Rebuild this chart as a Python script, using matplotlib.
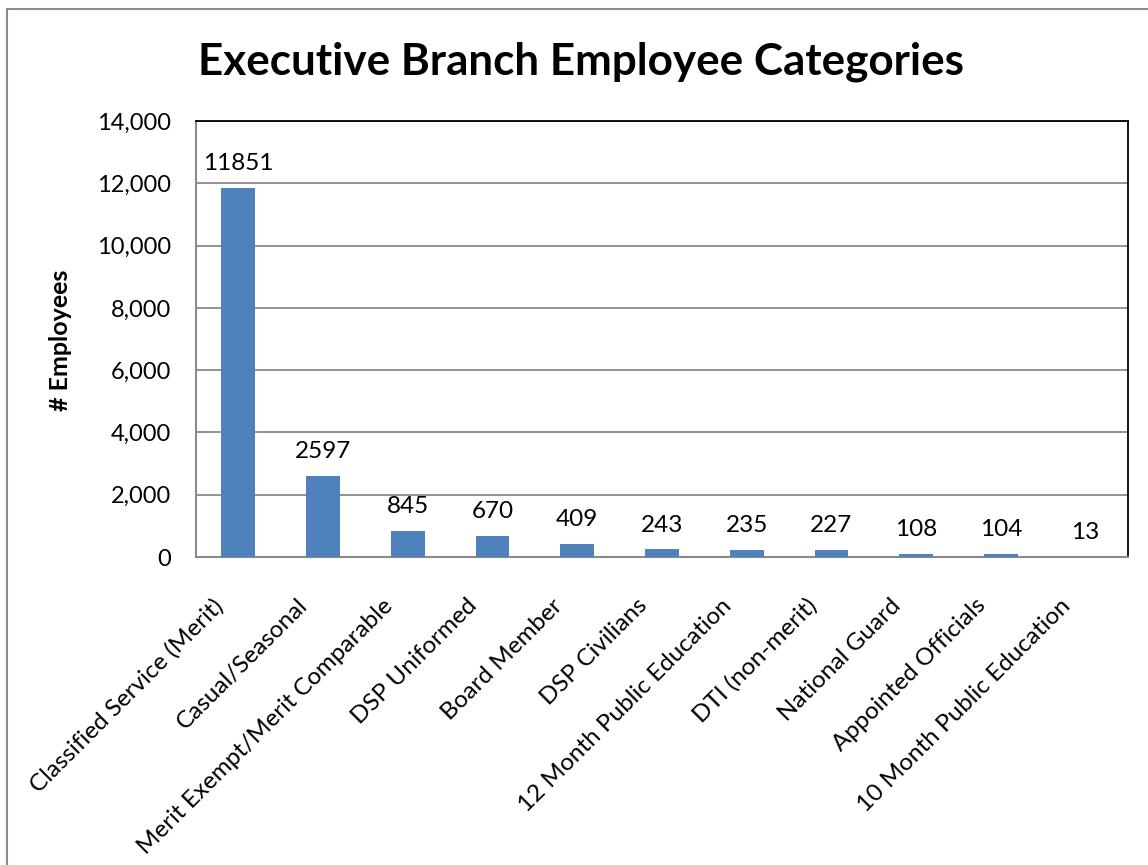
import matplotlib
matplotlib.use("Agg")
import matplotlib.pyplot as plt
from matplotlib.lines import Line2D
from matplotlib.ticker import FuncFormatter, MultipleLocator
from matplotlib.transforms import ScaledTranslation

categories = [
    "Classified Service (Merit)",
    "Casual/Seasonal",
    "Merit Exempt/Merit Comparable",
    "DSP Uniformed",
    "Board Member",
    "DSP Civilians",
    "12 Month Public Education",
    "DTI (non-merit)",
    "National Guard",
    "Appointed Officials",
    "10 Month Public Education",
]
employees = [11851, 2597, 845, 670, 409, 243, 235, 227, 108, 104, 13]

plt.rcParams["font.family"] = ["Lato", "DejaVu Sans"]

W, H = 1148, 865
fig = plt.figure(figsize=(W / 100, H / 100), dpi=100)
fig.patch.set_facecolor("white")

# outer chart frame (left and top edges visible)
fig.add_artist(Line2D([7 / W, 7 / W], [0, 1 - 9 / H], color="#8c8c8c", lw=1.5,
                      transform=fig.transFigure))
fig.add_artist(Line2D([7 / W, 1], [1 - 9 / H, 1 - 9 / H], color="#8c8c8c", lw=1.5,
                      transform=fig.transFigure))

left, right, top, bottom = 196, 1128, 121, 557
ax = fig.add_axes([left / W, 1 - bottom / H, (right - left) / W, (bottom - top) / H])

x = list(range(len(categories)))
ax.bar(x, employees, width=0.40, color="#4F81BD", zorder=3)
ax.set_xlim(-0.5, len(categories) - 0.5)
ax.set_ylim(0, 14000)
ax.yaxis.set_major_locator(MultipleLocator(2000))
ax.yaxis.set_major_formatter(FuncFormatter(lambda v, p: f"{int(v):,}"))
ax.grid(axis="y", color="#8a8a8a", lw=1.3, zorder=1)

for xi, v in zip(x, employees):
    ax.annotate(str(v), (xi, v), xytext=(0, 10), textcoords="offset points",
                ha="center", va="bottom", fontsize=17.5)

ax.set_xticks(x)
ax.set_xticklabels(categories, rotation=45, ha="right", rotation_mode="anchor",
                   fontsize=17.5)
ax.tick_params(axis="x", length=0, pad=10)
ax.tick_params(axis="y", length=0, pad=18, labelsize=17)
shift = ScaledTranslation(-0.26, -0.24, fig.dpi_scale_trans)
for lab in ax.get_xticklabels():
    lab.set_transform(lab.get_transform() + shift)

for side in ("left", "bottom"):
    ax.spines[side].set_color("#8a8a8a")
    ax.spines[side].set_linewidth(1.5)
for side in ("top", "right"):
    ax.spines[side].set_color("#000000")
    ax.spines[side].set_linewidth(1.3)

fig.text(581 / W, 1 - 62 / H, "Executive Branch Employee Categories",
         ha="center", va="center", fontsize=31.7, fontweight="bold")
fig.text(60 / W, 1 - 340 / H, "# Employees", rotation=90, ha="center",
         va="center", fontsize=18, fontweight="bold")

fig.savefig("out.png", dpi=100)
